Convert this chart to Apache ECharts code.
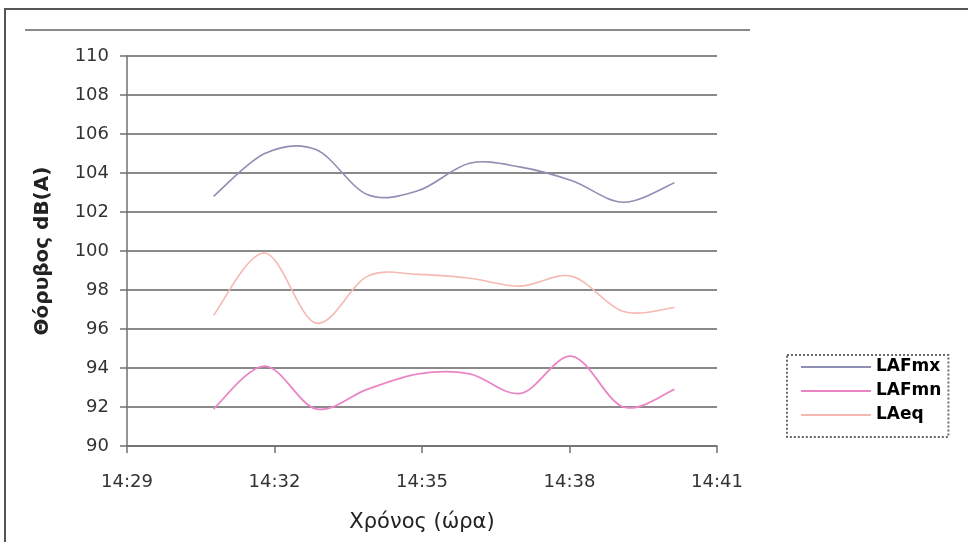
<!DOCTYPE html>
<html>
<head>
<meta charset="utf-8">
<script src="https://cdn.jsdelivr.net/npm/echarts@6/dist/echarts.min.js"></script>
<style>
  html, body { margin: 0; padding: 0; background: #fff; }
  #chart { width: 968px; height: 542px; }
</style>
</head>
<body>
<div id="chart"></div>
<script>
// Measurement times (one reading per minute)
const times = ['14:31:27', '14:32:27', '14:33:27', '14:34:27', '14:35:27',
               '14:36:27', '14:37:27', '14:38:27', '14:39:27', '14:40:27'];

// Noise levels in dB(A)
const lafMax = [102.8, 105.0, 105.2, 102.9, 103.1, 104.5, 104.3, 103.6, 102.5, 103.5];
const lafMin = [91.9, 94.1, 91.9, 92.9, 93.7, 93.7, 92.7, 94.6, 92.0, 92.9];
const laEq   = [96.7, 99.9, 96.3, 98.7, 98.8, 98.6, 98.2, 98.7, 96.9, 97.1];

const seriesNames = ['LAFmx', 'LAFmn', 'LAeq'];

// Time axis labels (axis runs in thousandths of a day: 604 .. 612, step 2)
const timeTickLabels = ['14:29', '14:32', '14:35', '14:38', '14:41'];

// Convert "hh:mm:ss" to thousandths of a day
function toMilliDay(t) {
  const p = t.split(':').map(Number);
  return (p[0] * 3600 + p[1] * 60 + p[2]) / 86.4;
}
function pairs(values) {
  return values.map((v, i) => [toMilliDay(times[i]), v]);
}

// Smoothed curve through every reading (Catmull-Rom style cubic Bezier),
// positioned with the grid's own coordinate conversion.
function curveRenderer(values, color, width) {
  return function (params, api) {
    if (params.dataIndex !== 0) return null;
    const pts = pairs(values).map(p => api.coord(p));
    const n = pts.length;
    let d = 'M' + pts[0][0] + ',' + pts[0][1];
    for (let i = 0; i < n - 1; i++) {
      const p0 = pts[Math.max(i - 1, 0)];
      const p1 = pts[i];
      const p2 = pts[i + 1];
      const p3 = pts[Math.min(i + 2, n - 1)];
      const c1x = p1[0] + (p2[0] - p0[0]) / 6;
      const c1y = p1[1] + (p2[1] - p0[1]) / 6;
      const c2x = p2[0] - (p3[0] - p1[0]) / 6;
      const c2y = p2[1] - (p3[1] - p1[1]) / 6;
      d += ' C' + c1x + ',' + c1y + ' ' + c2x + ',' + c2y + ' ' + p2[0] + ',' + p2[1];
    }
    return {
      type: 'path',
      shape: { pathData: d },
      style: { stroke: color, lineWidth: width, fill: null }
    };
  };
}

function curveSeries(name, values, color, width) {
  return {
    name: name,
    type: 'custom',
    coordinateSystem: 'cartesian2d',
    data: pairs(values),
    encode: { x: 0, y: 1 },
    itemStyle: { color: color },
    renderItem: curveRenderer(values, color, width)
  };
}

const FONT = 'DejaVu Sans';
const chart = echarts.init(document.getElementById('chart'), null, { renderer: 'canvas' });

chart.setOption({
  backgroundColor: '#ffffff',
  animation: false,
  grid: { left: 127, top: 56, width: 590, height: 390, containLabel: false },
  legend: {
    orient: 'vertical',
    left: 787,
    top: 355,
    data: seriesNames,
    icon: 'rect',
    itemWidth: 70,
    itemHeight: 2,
    itemGap: 4,
    padding: [2, 7, 12, 14],
    borderColor: '#6a6a6a',
    borderWidth: 2,
    borderType: 'dotted',
    backgroundColor: '#ffffff',
    textStyle: { fontFamily: FONT, fontSize: 17, fontWeight: 'bold', color: '#000', lineHeight: 20 }
  },
  xAxis: {
    type: 'value',
    min: 604,
    max: 612,
    interval: 2,
    name: 'Χρόνος (ώρα)',
    nameLocation: 'middle',
    nameGap: 66,
    nameTextStyle: { fontFamily: FONT, fontSize: 21, color: '#222' },
    axisLine: { show: true, onZero: false, lineStyle: { color: '#707070', width: 1.5 } },
    axisTick: { show: true, inside: false, length: 7, lineStyle: { color: '#707070', width: 1.5 } },
    axisLabel: {
      margin: 27,
      fontFamily: FONT,
      fontSize: 18,
      color: '#333',
      formatter: (value, index) => timeTickLabels[index]
    },
    splitLine: { show: false }
  },
  yAxis: {
    type: 'value',
    min: 90,
    max: 110,
    interval: 2,
    name: 'Θόρυβος dB(A)',
    nameLocation: 'middle',
    nameGap: 74,
    nameTextStyle: { fontFamily: FONT, fontSize: 20, fontWeight: 'bold', color: '#222' },
    axisLine: { show: true, lineStyle: { color: '#707070', width: 1.5 } },
    axisTick: { show: true, inside: false, length: 7, lineStyle: { color: '#707070', width: 1.5 } },
    axisLabel: { margin: 18, fontFamily: FONT, fontSize: 18, color: '#333' },
    splitLine: { show: true, lineStyle: { color: '#8a8a8a', width: 2 } }
  },
  series: [
    curveSeries('LAFmx', lafMax, '#8f8fb3', 1.6),
    curveSeries('LAFmn', lafMin, '#ea86c6', 1.8),
    curveSeries('LAeq', laEq, '#f6b9b2', 1.6)
  ],
  graphic: [
    // outer frame (left and top edges)
    { type: 'polyline', silent: true,
      shape: { points: [[5, 542], [5, 9], [968, 9]] },
      style: { stroke: '#555', lineWidth: 2, fill: null } },
    // rule above the plot area
    { type: 'line', silent: true,
      shape: { x1: 25, y1: 30, x2: 750, y2: 30 },
      style: { stroke: '#8a8a8a', lineWidth: 2 } }
  ]
});
</script>
</body>
</html>
